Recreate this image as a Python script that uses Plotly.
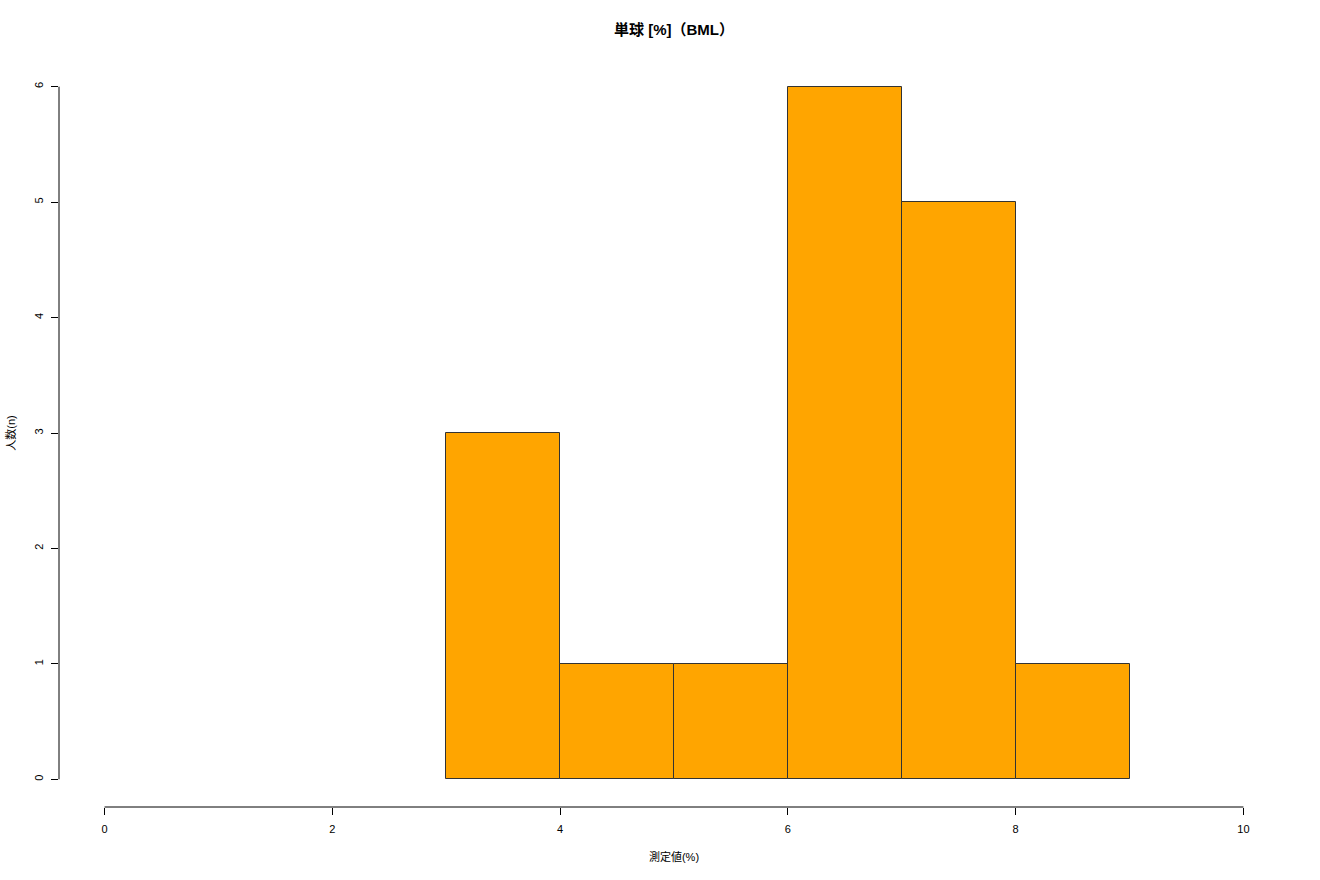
import plotly.graph_objects as go

bin_edges = [3, 4, 5, 6, 7, 8, 9]
counts = [3, 1, 1, 6, 5, 1]
x_ticks = [0, 2, 4, 6, 8, 10]
y_ticks = [0, 1, 2, 3, 4, 5, 6]
title_text = "<b>単球 [%]（BML）</b>"
x_title = "測定値(%)"
y_title = "人数(n)"

centers = [(a + b) / 2 for a, b in zip(bin_edges[:-1], bin_edges[1:])]
widths = [b - a for a, b in zip(bin_edges[:-1], bin_edges[1:])]

FONT = "Liberation Sans, Arial, Noto Sans CJK JP, sans-serif"

fig = go.Figure()
fig.add_trace(go.Bar(
    x=centers, y=counts, width=widths,
    marker=dict(color="#FFA500", line=dict(color="#333333", width=1)),
    hoverinfo="x+y",
))

fig.update_layout(
    width=1320, height=880,
    margin=dict(l=59, r=31, t=59, b=73),
    plot_bgcolor="white", paper_bgcolor="white",
    showlegend=False,
    bargap=0,
    font=dict(family=FONT, size=11, color="black"),
    title=dict(text=title_text, xref="paper", x=0.5, xanchor="center", y=0.966, yanchor="middle",
               font=dict(family="Liberation Sans, Noto Sans CJK JP", size=15, color="black")),
    xaxis=dict(range=[-0.4, 10.4], tickvals=x_ticks, ticktext=[str(v) for v in x_ticks],
               ticks="outside", ticklen=7, tickcolor="black", showgrid=False, zeroline=False,
               showline=False, tickfont=dict(size=11, color="black"), ticklabelstandoff=5,
               automargin=False,
               title=dict(text=x_title, font=dict(size=11, color="black"), standoff=19)),
    yaxis=dict(range=[-0.24, 6.24], tickvals=y_ticks, ticktext=[str(v) for v in y_ticks],
               ticks="outside", ticklen=7, tickcolor="black", showgrid=False, zeroline=False,
               showline=False, tickangle=-90, tickfont=dict(size=11, color="black"),
               ticklabelstandoff=4, automargin=False,
               title=dict(text=y_title, font=dict(size=11, color="black"), standoff=14)),
)

# axis lines spanning only the tick range (R style)
fig.add_shape(type="line", xref="x", yref="paper", x0=x_ticks[0], x1=x_ticks[-1], y0=0, y1=0,
              line=dict(color="black", width=1))
fig.add_shape(type="line", xref="paper", yref="y", x0=0, x1=0, y0=y_ticks[0], y1=y_ticks[-1],
              line=dict(color="black", width=1))

fig.write_html("out.html", config={"displayModeBar": False},
               post_script="document.body.style.margin='0';")
